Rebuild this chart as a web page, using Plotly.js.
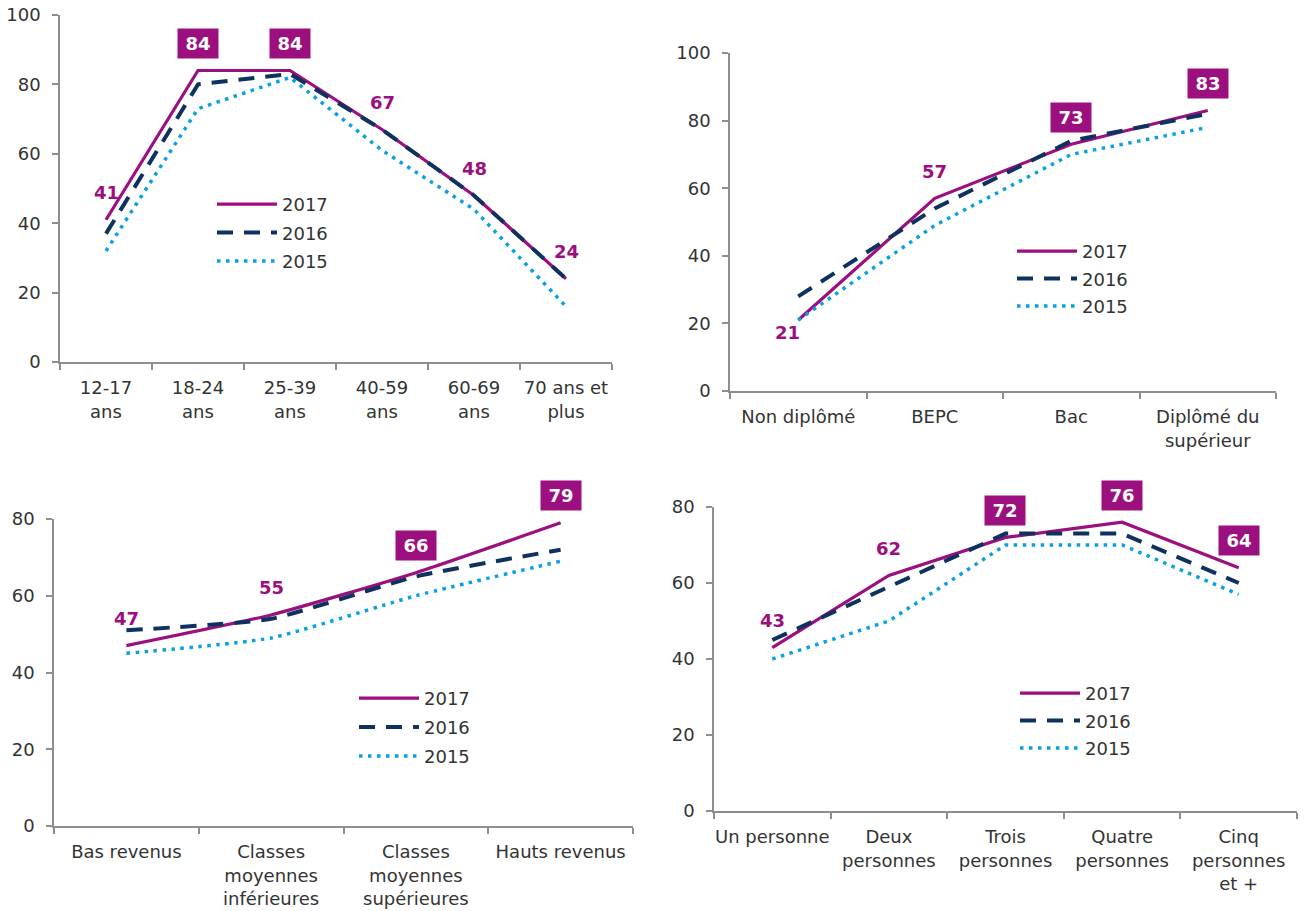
<!DOCTYPE html>
<html>
<head>
<meta charset="utf-8">
<script src="https://cdn.plot.ly/plotly-3.0.1.min.js"></script>
<style>
  html, body { margin: 0; padding: 0; background: #ffffff; }
  #chart { width: 1304px; height: 911px; }
</style>
</head>
<body>
<div id="chart"></div>
<script>
// ---------- DATA ----------
const seriesNames = ['2017', '2016', '2015'];

const ageCats = ['12-17<br>ans', '18-24<br>ans', '25-39<br>ans', '40-59<br>ans', '60-69<br>ans', '70 ans et<br>plus'];
const age2017 = [41, 84, 84, 67, 48, 24];
const age2016 = [37, 80, 83, 67, 48, 24];
const age2015 = [32, 73, 82, 61, 44, 16];

const diplomeCats = ['Non diplômé', 'BEPC', 'Bac', 'Diplômé du<br>supérieur'];
const diplome2017 = [21, 57, 73, 83];
const diplome2016 = [28, 54, 74, 82];
const diplome2015 = [21, 49, 70, 78];

const revenuCats = ['Bas revenus', 'Classes<br>moyennes<br>inférieures', 'Classes<br>moyennes<br>supérieures', 'Hauts revenus'];
const revenu2017 = [47, 55, 66, 79];
const revenu2016 = [51, 54, 65, 72];
const revenu2015 = [45, 49, 60, 69];

const foyerCats = ['Un personne', 'Deux<br>personnes', 'Trois<br>personnes', 'Quatre<br>personnes', 'Cinq<br>personnes<br>et +'];
const foyer2017 = [43, 62, 72, 76, 64];
const foyer2016 = [45, 59, 73, 73, 60];
const foyer2015 = [40, 50, 70, 70, 57];

// ---------- STYLE ----------
const MAGENTA = '#9C0F7F';
const NAVY = '#0E3260';
const SKY = '#0AA1E2';
const AXIS = '#8E8E8E';
const TEXT = '#333333';
const FONT = 'DejaVu Sans, Verdana, sans-serif';
const FS = 18;
const W = 1304, H = 911;

const lineStyles = [
  {color: MAGENTA, width: 3.2, dash: 'solid'},
  {color: NAVY, width: 4, dash: '16px,11px'},
  {color: SKY, width: 3.5, dash: '3.5px,5.5px'}
];

// panel geometry in pixels (left, right, top, bottom), y range, boxed label indices, label shifts
const panels = [
  {cats: ageCats, vals: [age2017, age2016, age2015], px: [60, 612, 15, 362], ymax: 100, dtick: 20,
   boxed: [1, 2], shifts: {}, spline: false, legendPos: [212, 186], gap: 2},
  {cats: diplomeCats, vals: [diplome2017, diplome2016, diplome2015], px: [730, 1276, 53, 391], ymax: 100, dtick: 20,
   boxed: [2, 3], shifts: {0: [-11, -39]}, spline: false, legendPos: [1012, 233], gap: 1},
  {cats: revenuCats, vals: [revenu2017, revenu2016, revenu2015], px: [54, 633, 519, 826], ymax: 80, dtick: 20,
   boxed: [2, 3], shifts: {}, spline: true, legendPos: [354, 680], gap: 2.5},
  {cats: foyerCats, vals: [foyer2017, foyer2016, foyer2015], px: [714, 1297, 507, 811], ymax: 80, dtick: 20,
   boxed: [2, 3, 4], shifts: {}, spline: false, legendPos: [1015, 675], gap: 1}
];

const data = [];
const layout = {
  width: W, height: H,
  margin: {l: 0, r: 0, t: 0, b: 0},
  paper_bgcolor: '#ffffff', plot_bgcolor: '#ffffff',
  font: {family: FONT, size: FS, color: TEXT},
  showlegend: true,
  annotations: []
};

panels.forEach((p, i) => {
  const n = i + 1;
  const xa = n === 1 ? 'x' : 'x' + n;
  const ya = n === 1 ? 'y' : 'y' + n;
  const legendKey = n === 1 ? 'legend' : 'legend' + n;
  p.vals.forEach((v, s) => {
    data.push({
      type: 'scatter', mode: 'lines',
      x: p.cats, y: v, name: seriesNames[s],
      xaxis: xa, yaxis: ya, legend: legendKey,
      legendgroup: 'p' + n + '_' + seriesNames[s],
      line: Object.assign({}, lineStyles[s], p.spline ? {shape: 'spline', smoothing: 0.5} : {}),
      hoverinfo: 'x+y+name'
    });
  });
  const [l, r, t, b] = p.px;
  layout[n === 1 ? 'xaxis' : 'xaxis' + n] = {
    domain: [l / W, r / W], anchor: ya, type: 'category',
    range: [-0.5, p.cats.length - 0.5],
    showline: true, linecolor: AXIS, linewidth: 1.5,
    ticks: 'outside', tickson: 'boundaries', ticklen: 6, tickcolor: AXIS, tickwidth: 1.5,
    showgrid: false, zeroline: false, ticklabelstandoff: 9, tickangle: 0,
    tickfont: {family: FONT, size: FS, color: TEXT}, fixedrange: true
  };
  layout[n === 1 ? 'yaxis' : 'yaxis' + n] = {
    domain: [1 - b / H, 1 - t / H], anchor: xa,
    range: [0, p.ymax], dtick: p.dtick, tick0: 0,
    showline: true, linecolor: AXIS, linewidth: 1.5,
    ticks: 'outside', ticklen: 6, tickcolor: AXIS, tickwidth: 1.5,
    showgrid: false, zeroline: false, ticklabelstandoff: 8,
    tickfont: {family: FONT, size: FS, color: TEXT}, fixedrange: true
  };
  layout[legendKey] = {
    x: p.legendPos[0] / W, y: 1 - p.legendPos[1] / H,
    xanchor: 'left', yanchor: 'top',
    bgcolor: 'rgba(0,0,0,0)', borderwidth: 0,
    font: {family: FONT, size: FS, color: TEXT},
    itemwidth: 60, tracegroupgap: p.gap, traceorder: 'grouped'
  };
  // 2017 value labels
  const v17 = p.vals[0];
  v17.forEach((val, k) => {
    const boxed = p.boxed.includes(k);
    const sh = p.shifts[k] || [0, 0];
    layout.annotations.push({
      xref: xa, yref: ya, x: p.cats[k], y: val,
      text: '<b>' + val + '</b>', showarrow: false,
      yshift: 27 + sh[1], xshift: sh[0],
      font: {family: FONT, size: FS, color: boxed ? '#ffffff' : MAGENTA},
      bgcolor: boxed ? MAGENTA : 'rgba(0,0,0,0)',
      width: boxed ? 34 : undefined, height: 23, borderpad: 3
    });
  });
});

Plotly.newPlot('chart', data, layout, {displayModeBar: false});
</script>
</body>
</html>
